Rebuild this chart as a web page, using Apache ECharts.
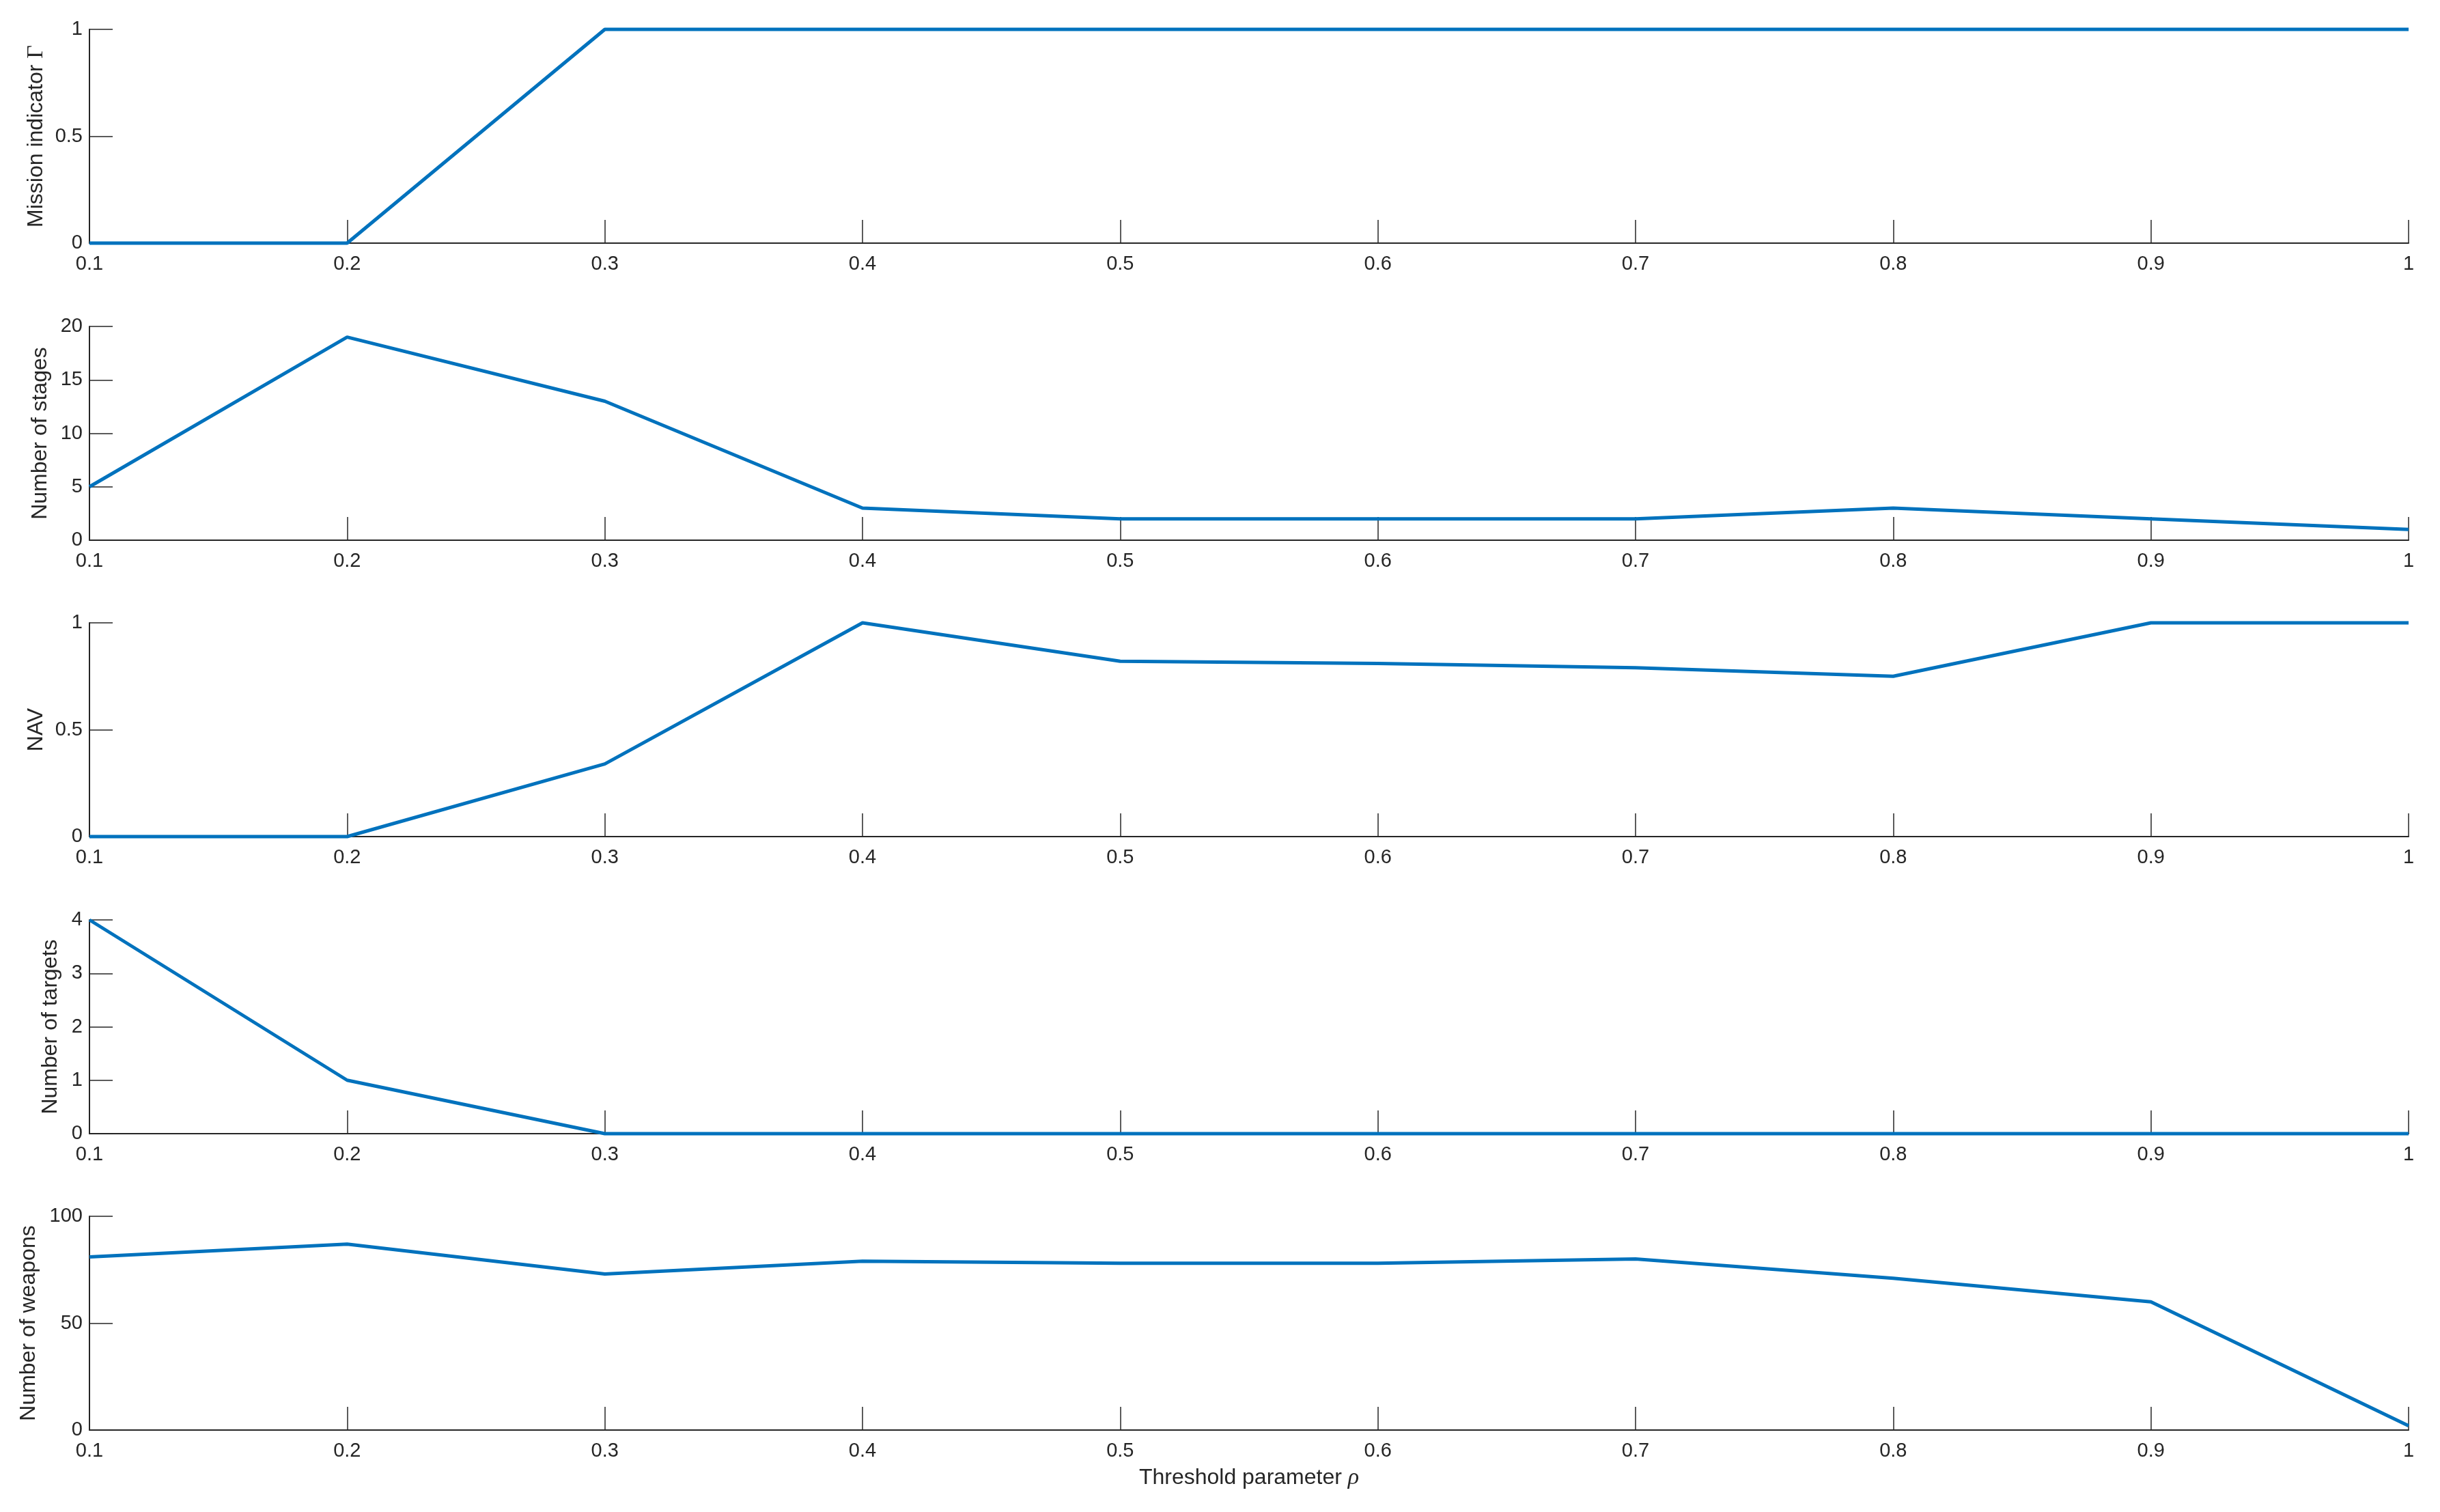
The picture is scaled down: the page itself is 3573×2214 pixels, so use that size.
<!DOCTYPE html>
<html>
<head>
<meta charset="utf-8">
<title>Threshold parameter study</title>
<script src="https://cdn.jsdelivr.net/npm/echarts@6/dist/echarts.min.js"></script>
<style>
  html, body { margin: 0; padding: 0; background: #ffffff; }
  #main { width: 3573px; height: 2214px; }
</style>
</head>
<body>
<div id="main"></div>
<script>
  // threshold values (x axis, shared by all panels)
  var rho = [0.1, 0.2, 0.3, 0.4, 0.5, 0.6, 0.7, 0.8, 0.9, 1];

  // one array per subplot
  var missionIndicator = [0, 0, 1, 1, 1, 1, 1, 1, 1, 1];
  var stageCount = [5, 19, 13, 3, 2, 2, 2, 3, 2, 1];
  var navValues = [0, 0, 0.34, 1, 0.82, 0.81, 0.79, 0.75, 1, 1];
  var targetCount = [4, 1, 0, 0, 0, 0, 0, 0, 0, 0];
  var weaponCount = [81, 87, 73, 79, 78, 78, 80, 71, 60, 2];

  // y axis ranges / ticks
  var yMax = [1, 20, 1, 4, 100];
  var yStep = [0.5, 5, 0.5, 1, 50];
  var yNames = ['Mission indicator {g|Γ}', 'Number of stages', 'NAV', 'Number of targets', 'Number of weapons'];
  var xName = 'Threshold parameter {r|ρ}';

  var FONT = 'Liberation Sans, Helvetica, Arial, sans-serif';
  var INK = '#262626';
  var LINE = '#0072BD';

  var allSeries = [missionIndicator, stageCount, navValues, targetCount, weaponCount];
  var tops = [43, 478, 912, 1347, 1781];
  var nameGaps = [61, 56, 62, 41, 73];

  var grids = [], xAxes = [], yAxes = [], series = [];

  for (var i = 0; i < allSeries.length; i++) {
    grids.push({left: 131, right: 46, top: tops[i], height: 313});

    xAxes.push({
      type: 'value',
      gridIndex: i,
      min: 0.1,
      max: 1,
      interval: 0.1,
      name: i == allSeries.length - 1 ? xName : '',
      nameLocation: 'middle',
      nameGap: 53,
      nameTextStyle: {
        fontFamily: FONT, fontSize: 32, color: INK,
        rich: {r: {fontFamily: 'Liberation Serif, serif', fontStyle: 'italic', fontSize: 34, color: INK}}
      },
      axisLine: {onZero: false, lineStyle: {color: INK, width: 2}},
      axisTick: {inside: true, length: 34, lineStyle: {color: INK, width: 1.5}},
      axisLabel: {fontFamily: FONT, fontSize: 29, color: INK, margin: 16, showMinLabel: true, showMaxLabel: true},
      splitLine: {show: false}
    });

    yAxes.push({
      type: 'value',
      gridIndex: i,
      min: 0,
      max: yMax[i],
      interval: yStep[i],
      name: yNames[i],
      nameLocation: 'middle',
      nameRotate: 90,
      nameGap: nameGaps[i],
      nameTextStyle: {
        fontFamily: FONT, fontSize: 32, color: INK,
        rich: {g: {fontFamily: 'Liberation Serif, serif', fontSize: 34, color: INK}}
      },
      axisLine: {show: true, lineStyle: {color: INK, width: 2}},
      axisTick: {show: true, inside: true, length: 34, lineStyle: {color: INK, width: 1.5}},
      axisLabel: {fontFamily: FONT, fontSize: 29, color: INK, margin: 10},
      splitLine: {show: false}
    });

    var pts = [];
    for (var k = 0; k < rho.length; k++) {
      pts.push([rho[k], allSeries[i][k]]);
    }
    series.push({
      type: 'line',
      xAxisIndex: i,
      yAxisIndex: i,
      data: pts,
      symbol: 'none',
      clip: false,
      lineStyle: {color: LINE, width: 5},
      animation: false
    });
  }

  var chart = echarts.init(document.getElementById('main'));
  chart.setOption({
    backgroundColor: '#ffffff',
    animation: false,
    grid: grids,
    xAxis: xAxes,
    yAxis: yAxes,
    series: series
  });
</script>
</body>
</html>
